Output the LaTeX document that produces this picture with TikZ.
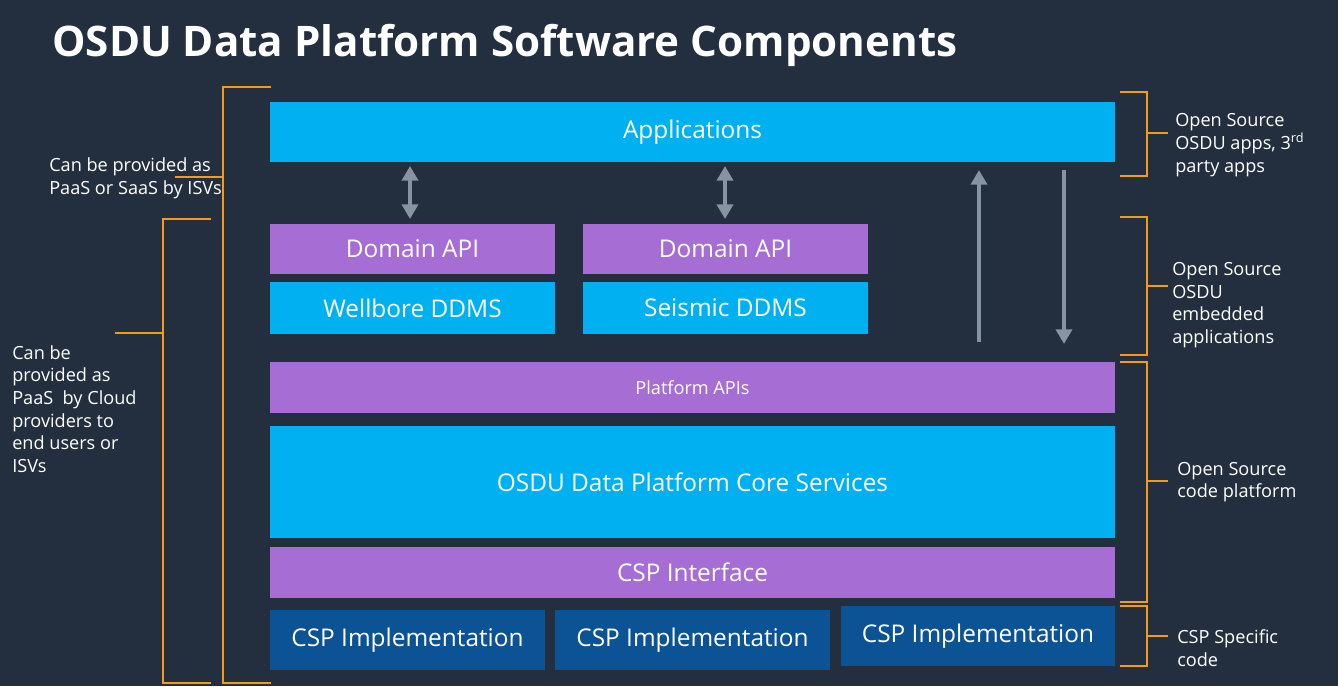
\documentclass[tikz,border=0pt]{standalone}
\usepackage{fontspec}
\setmainfont{Open Sans}
\usetikzlibrary{arrows.meta}
\definecolor{bgnavy}{HTML}{232F3E}
\definecolor{skyblue}{HTML}{00B0F0}
\definecolor{lavender}{HTML}{A66DD4}
\definecolor{deepblue}{HTML}{0B5394}
\definecolor{bracketorange}{HTML}{F59B1A}
\definecolor{arrowgrey}{HTML}{8593A3}
\tikzset{layer/.style={draw=none,inner sep=0pt,text=white,font=\fontsize{18.3}{22}\selectfont},
  bracket/.style={bracketorange,line width=1.6pt},
  flow/.style={arrowgrey,line width=3.6pt,-{Triangle[length=11pt,width=12pt]}},
  note/.style={text=white,align=left,anchor=west,inner sep=0pt,font=\fontsize{13.6}{17}\selectfont}}

\begin{document}
\begin{tikzpicture}[x=0.75pt,y=-0.75pt]
\fill[bgnavy] (0,0) rectangle (1338,686);
\useasboundingbox (0,0) rectangle (1338,686);

\node[anchor=west,text=white,inner sep=0pt,font=\bfseries\fontsize{31.6}{36}\selectfont] (title) at (52,45) {OSDU Data Platform Software Components};

% layers
\fill[skyblue] (270,102) rectangle (1115,162) node[layer,midway] (apps) {Applications};
\fill[lavender] (270,224) rectangle (555,274) node[layer,midway] (dapi1) {Domain API};
\fill[lavender] (583,224) rectangle (868,274) node[layer,midway] (dapi2) {Domain API};
\fill[skyblue] (270,282) rectangle (555,334) node[layer,midway] (well) {Wellbore DDMS};
\fill[skyblue] (583,282) rectangle (868,334) node[layer,midway] (seis) {Seismic DDMS};
\fill[lavender] (270,362) rectangle (1115,413) node[layer,midway,font=\fontsize{13.6}{16}\selectfont] (papi) {Platform APIs};
\fill[skyblue] (270,426) rectangle (1115,538) node[layer,midway] (core) {OSDU Data Platform Core Services};
\fill[lavender] (270,547) rectangle (1115,598) node[layer,midway] (cspi) {CSP Interface};
\fill[deepblue] (270,610) rectangle (545,670) node[layer,midway] (impl1) {CSP Implementation};
\fill[deepblue] (555,610) rectangle (830,670) node[layer,midway] (impl2) {CSP Implementation};
\fill[deepblue] (841,606) rectangle (1115,666) node[layer,midway] (impl3) {CSP Implementation};

% arrows
\coordinate (a1t) at (410,166); \coordinate (a1b) at (410,219);
\coordinate (a2t) at (725,166); \coordinate (a2b) at (725,219);
\draw[flow,{Triangle[length=11pt,width=12pt]}-{Triangle[length=11pt,width=12pt]}] (a1t) -- (a1b);
\draw[flow,{Triangle[length=11pt,width=12pt]}-{Triangle[length=11pt,width=12pt]}] (a2t) -- (a2b);
\coordinate (upb) at (979,342); \coordinate (upt) at (979,170);
\coordinate (dnt) at (1064,170); \coordinate (dnb) at (1064,344);
\draw[flow] (upb) -- (upt);
\draw[flow] (dnt) -- (dnb);

% right brackets
\draw[bracket] (1120,92) -- (1147,92) -- (1147,176) -- (1120,176) (1147,133) -- (1168,133);
\draw[bracket] (1120,217) -- (1147,217) -- (1147,355) -- (1120,355) (1147,286) -- (1168,286);
\draw[bracket] (1120,362) -- (1147,362) -- (1147,602) -- (1120,602) (1147,481) -- (1168,481);
\draw[bracket] (1120,606) -- (1147,606) -- (1147,666) -- (1120,666) (1147,636) -- (1168,636);

% left brackets
\draw[bracket] (271,87) -- (223,87) -- (223,683) -- (271,683) (223,177) -- (175,177);
\draw[bracket] (211,219) -- (163,219) -- (163,683) -- (211,683) (163,333) -- (115,333);

% notes
\node[note] (n1) at (1175,145) {Open Source\\OSDU apps, 3\textsuperscript{rd}\\party apps};
\node[note] (n2) at (1172,305) {Open Source\\OSDU\\embedded\\applications};
\node[note] (n3) at (1177,482) {Open Source\\code platform};
\node[note] (n4) at (1177,648) {CSP Specific\\code};
\node[note] (n5) at (49,178) {Can be provided as\\PaaS or SaaS by ISVs};
\node[note] (n6) at (12,409) {Can be\\provided as\\PaaS\ \ by Cloud\\providers to\\end users or\\ISVs};
\end{tikzpicture}
\end{document}
